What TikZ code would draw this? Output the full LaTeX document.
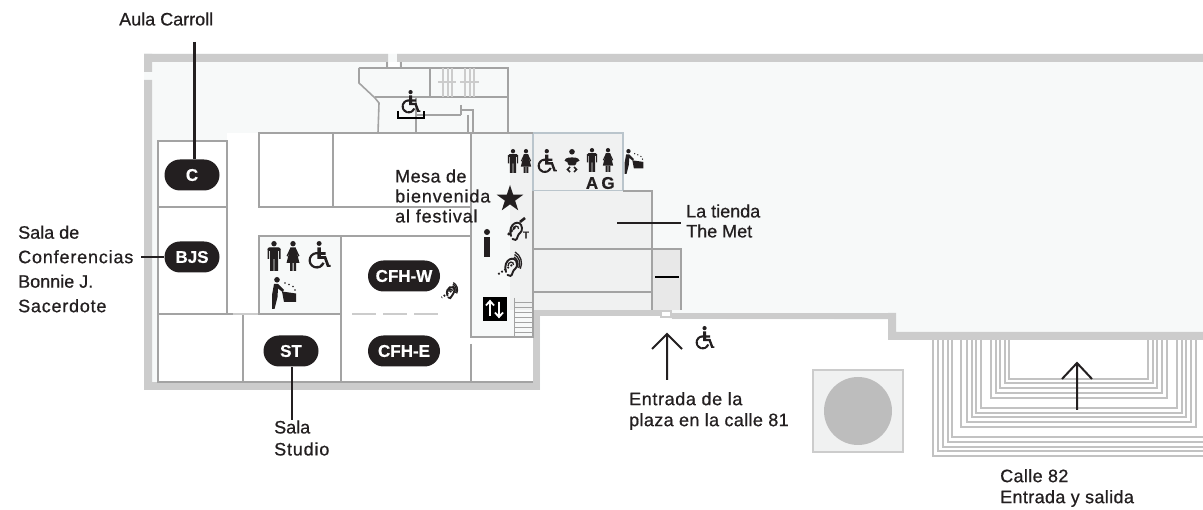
\documentclass[tikz,border=0pt]{standalone}
\usepackage{fontspec}
\setmainfont{Liberation Sans}[RawFeature={embolden=0.7}]
\usetikzlibrary{shapes.geometric}
\newcommand{\spaced}[2]{{\addfontfeature{LetterSpace=#1}#2}}
\definecolor{ink}{HTML}{231F20}
\definecolor{floorc}{HTML}{F7F9F9}
\definecolor{shopc}{HTML}{F0F1F1}
\definecolor{wallc}{HTML}{CCCCCC}
\definecolor{linec}{HTML}{A3A3A3}
\definecolor{bluec}{HTML}{BAC5CC}
\tikzset{
  x=1pt,y=-1pt,
  partition/.style={draw=linec,line width=1.6pt},
  thin wall/.style={draw=bluec,line width=1.4pt},
  stairline/.style={draw=wallc!95!black,line width=1.9pt},
  step lines/.style={draw=linec,line width=0.9pt},
  label/.style={anchor=west,align=left,text=ink,font=\fontsize{18}{20}\selectfont,inner sep=0pt},
  pill/.style={fill=ink,text=white,rounded corners=15.5pt,minimum height=31pt,inner sep=0pt,font=\bfseries\fontsize{17}{17}\selectfont},
  leader/.style={draw=ink,line width=2.2pt},
  iconman/.pic={
    \fill[ink] (0,2.7) circle (2.7);
    \fill[ink,rounded corners=1.5pt] (-6.5,6.5) rectangle (6.5,10);
    \fill[ink] (-4,7) rectangle (4,18) (-4,18) rectangle (-0.4,30) (0.4,18) rectangle (4,30) (-6.5,8) rectangle (-5,18) (5,8) rectangle (6.5,18);
  },
  iconwoman/.pic={
    \fill[ink] (0,2.7) circle (2.7);
    \fill[ink] (-2.5,6.5) -- (2.5,6.5) -- (6.5,22) -- (-6.5,22) -- cycle;
    \fill[ink] (-3,22) rectangle (-0.5,30) (0.5,22) rectangle (3,30);
    \fill[ink] (-2.5,6.5) -- (-6.5,15) -- (-5.3,15.5) -- (-1.5,8) -- cycle (2.5,6.5) -- (6.5,15) -- (5.3,15.5) -- (1.5,8) -- cycle;
  },
  iconwheel/.pic={
    \fill[ink] (11,2.7) circle (2.7);
    \fill[ink] (9,7) -- (13,7) -- (13,12) -- (18,12) -- (18,15) -- (13,15) -- (13,16.5) -- (18.5,16.5) -- (22,26) -- (23.5,26) -- (23.5,28) -- (19.5,28) -- (16.5,19.5) -- (9,19.5) -- cycle;
    \fill[ink] (8.5,21) ++(20:9) arc[start angle=20,end angle=285,radius=9] -- ++(285:-2.4) arc[start angle=285,end angle=20,radius=6.6] -- cycle;
  },
  iconsink/.pic={
    \fill[ink] (7,2.8) circle (2.8);
    \fill[ink] (4,7) -- (8,7) -- (14,13) -- (12.5,15) -- (8,11.5) -- (7.5,20) -- (4.5,32) -- (2,32) -- (2,18) -- cycle;
    \fill[ink] (12,14.5) -- (26,16.5) -- (26,25) -- (14,25) -- cycle;
    \fill[ink] (15,6) circle (0.9) (19,7.5) circle (0.9) (23,9.5) circle (0.9) (25,13) circle (0.9);
  },
  iconbaby/.pic={
    \fill[ink] (0,2.8) circle (2.8);
    \fill[ink,rounded corners=1.5pt] (-7.5,10.5) .. controls (-4,8) and (4,8) .. (7.5,10.5) -- (7.5,13) -- (4.5,12) -- (4,16.5) -- (-4,16.5) -- (-4.5,12) -- (-7.5,13) -- cycle;
    \draw[ink,line width=1.6pt] (-2,18) -- (-4.5,20.5) -- (-2,23) (2,18) -- (4.5,20.5) -- (2,23);
  },
  iconear/.pic={
    \draw[ink,line width=1.9pt,line cap=round] (-4,7) .. controls (-8,-6) and (6,-11) .. (7,-1) .. controls (7.5,4) and (3,4) .. (2.5,8) .. controls (2.2,11) and (-1,12) .. (-2.5,10);
    \draw[ink,line width=1.3pt] (-2,1) .. controls (-2,-4) and (4,-4) .. (3.5,0);
  },
  iconwaves/.pic={
    \draw[ink,line width=1.3pt] (4,-8) arc[start angle=-60,end angle=25,radius=8];
    \draw[ink,line width=1.3pt] (4.5,-10.5) arc[start angle=-60,end angle=25,radius=10.5];
    \draw[ink,line width=1.3pt] (5,-13) arc[start angle=-60,end angle=25,radius=13];
    \draw[ink,line width=1.9pt,dash pattern=on 1.7pt off 2pt] (2,0) -- (-13,10);
  },
}
\begin{document}
\begin{tikzpicture}
\useasboundingbox (0,0) rectangle (1203,510);
\fill[white] (0,0) rectangle (1203,510);
% floor
\fill[floorc] (144,54) -- (1203,54) -- (1203,340) -- (888,340) -- (888,320) -- (672,319) -- (660,316) -- (540,316) -- (540,390) -- (144,390) -- cycle;
% white rooms
\fill[white] (227,133) rectangle (471,337);
\fill[white] (157,141) rectangle (227,382);
\fill[white] (227,337) rectangle (534,382);
% walls
\fill[wallc] (144,54) rectangle (388,62) (397,54) rectangle (1203,62);
\fill[wallc] (144,54) rectangle (152,72) (144,80) rectangle (152,390);
\fill[wallc] (144,382) rectangle (540,390);
\fill[wallc] (533,310) rectangle (540,390);
\fill[wallc] (533,310) rectangle (660,316);
\fill[wallc] (672,313) rectangle (896,319);
\fill[wallc] (888,313) rectangle (896,340) (888,332) rectangle (1203,340);
\fill[wallc] (660,310) rectangle (672,318);
\fill[white] (662,312) rectangle (670,316);
% central hall
\fill[floorc] (471,133) rectangle (533,337);
\fill[shopc] (510,133) rectangle (533,310);
\fill[shopc] (533,133) rectangle (623,191);
\draw[thin wall] (533,133) -- (623,133) -- (623,191) -- (533,191) -- cycle;
\fill[shopc] (533,191) rectangle (652,310);
\draw[partition] (623,191) -- (652,191) -- (652,310);
\draw[partition] (533,191) -- (533,337) -- (471,337) -- (471,133) -- (533,133);
\draw[partition] (533,249) -- (681,249);
\draw[partition,line width=1.2pt] (533,292) -- (652,292);
\fill[black!9] (652,249) rectangle (681,310);
\draw[partition] (652,249) -- (681,249) -- (681,310);
\draw[partition] (652,249) -- (652,310);
% stairs by the elevator
\foreach \yy in {302,307,312,317,322,327,332,337} \draw[step lines] (514,\yy) -- (533,\yy);
\draw[step lines] (514,298) -- (514,337);
% rooms
\draw[partition] (259,133) rectangle (333,207);
\draw[partition] (333,133) -- (333,207) (333,133) -- (471,133) (333,207) -- (471,207);
\draw[partition] (158,141) rectangle (227,207);
\draw[partition] (158,207) -- (158,382) -- (243,382) -- (243,314) (158,314) -- (233,314) (227,207) -- (227,314);
\draw[draw=wallc,line width=1.4pt] (233,314) -- (259,314);
\fill[floorc] (259,236) rectangle (341,314);
\draw[partition,line width=2pt] (259,236) rectangle (341,314);
\draw[partition] (341,236) -- (471,236) (341,314) -- (341,382) -- (471,382) (471,344) -- (471,382) (243,382) -- (533,382);
\draw[draw=wallc,line width=2.6pt,dash pattern=on 24pt off 7pt] (352,314) -- (438,314);
% upper stair core
\draw[partition] (359,68) -- (508,68) -- (508,133) (359,68) -- (359,83) -- (375,98) -- (379,103) -- (378,133) -- (471,133);
\draw[partition] (375,97) -- (508,97) (430,68) -- (430,97);
\draw[partition] (387,62) -- (387,68) (401,62) -- (401,68);
\fill[white] (389,62) rectangle (399,67);
\foreach \xx in {443,448,452,465,470,474} \draw[draw=wallc,line width=1.5pt] (\xx,68) -- (\xx,97);
\draw[draw=wallc,line width=1.4pt] (438,82) -- (456,82) (460,82) -- (479,82);
\draw[partition] (416,97) -- (416,133) (416,115) -- (461,115) (461,105) -- (461,115) (461,110) -- (473,110) -- (473,133) (468,115) -- (468,133);
% stepped street entrance
\foreach \a/\b in {933/456,938/451,943/447,948/442,952/437} \draw[stairline] (\a,340) -- (\a,\b) -- (1203,\b);
\foreach \a/\c/\b in {961/1196/427,967/1191/422,972/1186/417,976/1182/413,981/1177/408} \draw[stairline] (\a,340) -- (\a,\b) -- (\c,\b) -- (\c,340);
\foreach \a/\c/\b in {991/1167/398,996/1162/393,1000/1157/388,1005/1153/383,1009/1148/379} \draw[stairline] (\a,340) -- (\a,\b) -- (\c,\b) -- (\c,340);
% plaza square
\node[draw=wallc,fill=shopc,line width=1.5pt,minimum width=90pt,minimum height=82pt,inner sep=0pt] (plaza) at (858,411) {};
\node[circle,fill=black!26,minimum size=68pt,inner sep=0pt] (disc) at (plaza.center) {};
% pills
\node[pill,minimum width=55pt] (c) at (192,175) {C};
\node[pill,minimum width=55pt] (bjs) at (192,257) {BJS};
\node[pill,minimum width=55pt] (st) at (291,351) {ST};
\node[pill,minimum width=72pt] (cfhw) at (404,276) {CFH-W};
\node[pill,minimum width=72pt] (cfhe) at (404,351) {CFH-E};
% labels
\node[label] (laula) at (119,19) {Aula Carroll};
\node[label,font=\fontsize{18}{24.5}\selectfont] (lbjs) at (18,269) {Sala de\\\spaced{4.6}{Conferencias}\\Bonnie J.\\\spaced{4.3}{Sacerdote}};
\node[label] (lmesa) at (395,196) {\spaced{2.5}{Mesa de}\\\spaced{5}{bienvenida}\\\spaced{4.5}{al festival}};
\node[label] (ltienda) at (686,221) {La tienda\\The Met};
\node[label,font=\fontsize{18}{21}\selectfont] (lplaza) at (629,411) {\spaced{3.4}{Entrada de la}\\\spaced{2}{plaza en la calle 81}};
\node[label,font=\fontsize{18}{22}\selectfont] (lst) at (274,438) {Sala\\\spaced{4.6}{Studio}};
\node[label,font=\fontsize{18}{21}\selectfont] (lcalle) at (1000,488) {\spaced{2}{Calle 82}\\\spaced{2}{Entrada y salida}};
% leaders
\coordinate (caul) at (194.5,42);
\coordinate (cbjs) at (141,257);
\coordinate (cst) at (292,420);
\coordinate (cshopa) at (617,223);
\coordinate (cshopb) at (681,223);
\draw[leader] (caul) -- (caul |- c.north);
\draw[leader] (cbjs) -- (bjs.west);
\draw[leader] (cst) -- (cst |- st.south);
\draw[leader] (cshopa) -- (cshopb);
\coordinate (dasha) at (655,277);
\coordinate (dashb) at (679,277);
\draw[draw=black,line width=2.4pt] (dasha) -- (dashb);
% arrows
\coordinate (a1t) at (667,334); \coordinate (a1b) at (667,380);
\draw[draw=ink,line width=2pt,line join=miter] (a1b) -- (a1t) (652,349) -- (a1t) -- (682,349);
\coordinate (a2t) at (1077,363); \coordinate (a2b) at (1077,410);
\draw[draw=ink,line width=2pt,line join=miter] (a2b) -- (a2t) (1062,379) -- (a2t) -- (1092,379);
% icons: room by CFH
\pic at (274,241) {iconman};
\pic at (293,241) {iconwoman};
\pic[scale=0.92] at (309,241) {iconwheel};
\pic at (270,277) {iconsink};
% icons: top restrooms
\pic[scale=0.8] at (513,149) {iconman};
\pic[scale=0.8] at (526,149) {iconwoman};
\pic[scale=0.8] at (538,149) {iconwheel};
\pic at (572,149) {iconbaby};
\pic[scale=0.8] at (592,148) {iconman};
\pic[scale=0.8] at (608,148) {iconwoman};
\pic[scale=0.78] at (623,149) {iconsink};
\node[text=ink,inner sep=0pt,font=\bfseries\fontsize{17}{17}\selectfont] (ta) at (592,183) {A};
\node[text=ink,inner sep=0pt,font=\bfseries\fontsize{17}{17}\selectfont] (tg) at (608,183) {G};
% lift
\pic[scale=0.78] at (402,90) {iconwheel};
\draw[draw=black,line width=2pt] (398,111) -- (398,118) -- (424,118) -- (424,111);
% star, info, ears, elevator
\node[star,star points=5,star point ratio=2.6,fill=ink,inner sep=0pt,minimum size=28pt] (star) at (510,199) {};
\fill[ink] (487,232) circle (3);
\fill[ink] (484,237) rectangle (490,257);
\pic at (515,229) {iconear};
\draw[ink,line width=2.6pt] (525,218) -- (520,222);
\draw[ink,line width=2.4pt,dash pattern=on 2.5pt off 1.5pt] (515,227) -- (508,235);
\node[text=ink,inner sep=0pt,font=\bfseries\fontsize{10}{10}\selectfont] (tt) at (526,235) {T};
\pic at (510,265) {iconear};
\pic at (510,265) {iconwaves};
\pic[scale=0.65] at (450,291) {iconear};
\pic[scale=0.65] at (450,291) {iconwaves};
\fill[black] (483,297) rectangle (507,321);
\draw[white,line width=1.8pt] (490,316) -- (490,301) (486,305.5) -- (490,301) -- (494,305.5);
\draw[white,line width=1.8pt] (499,302) -- (499,317) (495,312.5) -- (499,317) -- (503,312.5);
% wheelchair by plaza entrance
\pic[scale=0.78] at (696,326) {iconwheel};
\end{tikzpicture}
\end{document}
